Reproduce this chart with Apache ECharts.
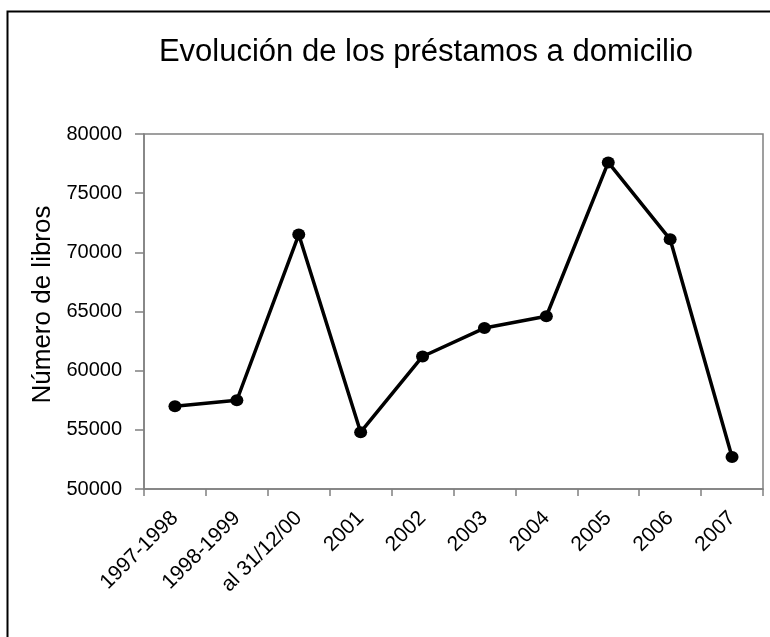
<!DOCTYPE html>
<html>
<head>
<meta charset="utf-8">
<script src="https://cdn.jsdelivr.net/npm/echarts@6/dist/echarts.min.js"></script>
<style>
html,body{margin:0;padding:0;background:#fff;}
#chart{width:770px;height:637px;}
</style>
</head>
<body>
<div id="chart"></div>
<script>
var categories = ['1997-1998','1998-1999','al 31/12/00','2001','2002','2003','2004','2005','2006','2007'];
var prestamos = [57000, 57500, 71500, 54800, 61200, 63600, 64600, 77600, 71100, 52700];
var yTicks = {min: 50000, max: 80000, interval: 5000};
var titleText = 'Evolución de los préstamos a domicilio';
var yName = 'Número de libros';
var FONT = 'Liberation Sans, Arial, sans-serif';

var chart = echarts.init(document.getElementById('chart'), null, {renderer: 'canvas'});
chart.setOption({
  backgroundColor: '#ffffff',
  animation: false,
  textStyle: {fontFamily: FONT, color: '#000'},
  title: {
    text: titleText,
    left: 421, top: 32, textAlign: 'center',
    textStyle: {fontFamily: FONT, fontSize: 31, fontWeight: 'normal', color: '#000'}
  },
  graphic: [{
    type: 'rect', left: 5, top: 9,
    shape: {width: 800, height: 700},
    style: {fill: 'none', stroke: '#000', lineWidth: 2}
  }],
  grid: {left: 144, right: 7, top: 134, bottom: 148, show: true, borderColor: '#808080', borderWidth: 1.5, backgroundColor: 'transparent'},
  xAxis: {
    type: 'category', data: categories, boundaryGap: true,
    axisLine: {lineStyle: {color: '#808080', width: 1.5}},
    axisTick: {show: true, alignWithLabel: false, length: 7, lineStyle: {color: '#808080', width: 1.5}},
    axisLabel: {rotate: 45, interval: 0, fontSize: 21, color: '#000', margin: 26, fontFamily: FONT},
    splitLine: {show: false}
  },
  yAxis: {
    type: 'value', min: yTicks.min, max: yTicks.max, interval: yTicks.interval,
    name: yName, nameLocation: 'middle', nameGap: 88, nameRotate: 90,
    nameTextStyle: {fontSize: 26, color: '#000', fontFamily: FONT, padding: [0, 0, 0, 14]},
    axisLine: {show: true, lineStyle: {color: '#808080', width: 1.5}},
    axisTick: {show: true, length: 9, lineStyle: {color: '#808080', width: 1.5}},
    axisLabel: {fontSize: 20, color: '#000', margin: 22, fontFamily: FONT,
      formatter: function (v) { return String(v); }},
    splitLine: {show: false}
  },
  series: [{
    type: 'line', data: prestamos,
    lineStyle: {color: '#000', width: 3.5},
    itemStyle: {color: '#000', borderColor: '#000', borderWidth: 0},
    symbol: 'circle', symbolSize: [13, 12], showSymbol: true
  }]
});
</script>
</body>
</html>
